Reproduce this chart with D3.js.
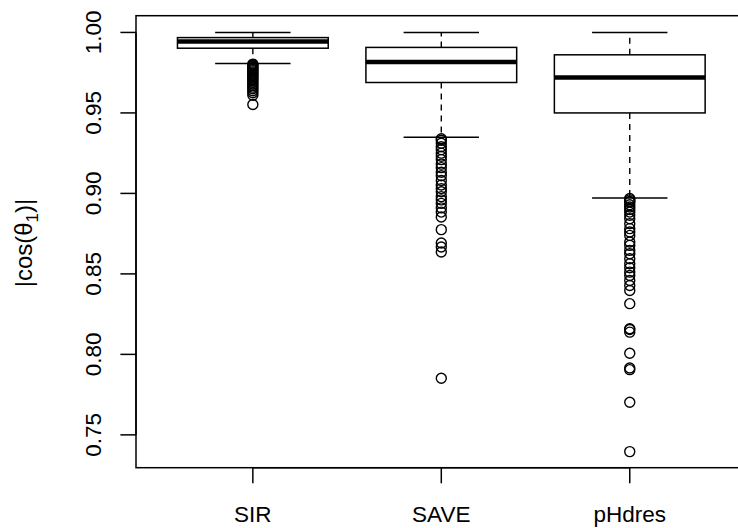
<!DOCTYPE html>
<html lang="en">
<head>
  <meta charset="UTF-8">
  <title>|cos(theta1)| boxplot</title>
  <style>
    body, html {
        margin: 0;
        padding: 0;
        background-color: #fff;
    }
    svg {
        display: block;
        font-family: "Liberation Sans", Arial, sans-serif;
    }
  </style>
</head>
<body>

<svg id="chart" width="738" height="528"></svg>

<script src="https://cdn.jsdelivr.net/npm/d3@7"></script>

<script>
/* global d3 */
// box statistics
var methods = ["SIR", "SAVE", "pHdres"];
var whiskerHi = [1.000, 1.000, 1.000];
var q3 = [0.9968, 0.9907, 0.9861];
var medians = [0.9943, 0.9817, 0.9720];
var q1 = [0.9902, 0.9689, 0.9500];
var whiskerLo = [0.9807, 0.9349, 0.8971];

var outSIR = [0.9803, 0.9798, 0.9791, 0.9784, 0.9778, 0.9770, 0.9763, 0.9755, 0.9748,
  0.9740, 0.9733, 0.9725, 0.9716, 0.9708, 0.9700, 0.9690, 0.9680, 0.9671, 0.9660,
  0.9650, 0.9638, 0.9625, 0.9610, 0.9552];
var outSAVE = [0.9340, 0.9330, 0.9312, 0.9290, 0.9272, 0.9250, 0.9231, 0.9210, 0.9182,
  0.9160, 0.9131, 0.9110, 0.9080, 0.9052, 0.9030, 0.9010, 0.8980, 0.8960, 0.8938,
  0.8910, 0.8884, 0.8853, 0.8775, 0.8692, 0.8667, 0.8636, 0.7852];
var outPHd = [0.8968, 0.8960, 0.8950, 0.8947, 0.8930, 0.8916, 0.8900, 0.8884, 0.8864,
  0.8843, 0.8812, 0.8781, 0.8760, 0.8739, 0.8698, 0.8677, 0.8646, 0.8625, 0.8594,
  0.8563, 0.8538, 0.8511, 0.8490, 0.8459, 0.8428, 0.8397, 0.8315, 0.8159, 0.8155,
  0.8138, 0.8007, 0.7915, 0.7905, 0.7703, 0.7396];
var outliers = [outSIR, outSAVE, outPHd];

var yTicks = [0.75, 0.80, 0.85, 0.90, 0.95, 1.00];

var svg = d3.select("#chart");

// R style: xlim c(0.5, 3.5) extended by 4%
var x = d3.scaleLinear().domain([0.38, 3.62]).range([136, 746.6]);
var y = d3.scaleLinear().domain([0.7296, 1.0104]).range([467.7, 15.7]);

var boxHalf = 0.4, capHalf = 0.2;
var fs = 22.5;

var boxes = svg.append("g");

methods.forEach(function(m, i) {
  var cx = x(i + 1);
  var g = boxes.append("g");

  // whiskers
  g.append("line")
    .attr("x1", cx).attr("x2", cx)
    .attr("y1", y(q3[i])).attr("y2", y(whiskerHi[i]))
    .attr("stroke", "#000").attr("stroke-width", 1.4)
    .attr("stroke-dasharray", "6,5");
  g.append("line")
    .attr("x1", cx).attr("x2", cx)
    .attr("y1", y(q1[i])).attr("y2", y(whiskerLo[i]))
    .attr("stroke", "#000").attr("stroke-width", 1.4)
    .attr("stroke-dasharray", "6,5");

  // staples
  [whiskerHi[i], whiskerLo[i]].forEach(function(v) {
    g.append("line")
      .attr("x1", x(i + 1 - capHalf)).attr("x2", x(i + 1 + capHalf))
      .attr("y1", y(v)).attr("y2", y(v))
      .attr("stroke", "#000").attr("stroke-width", 1.5);
  });

  // box
  g.append("rect")
    .attr("x", x(i + 1 - boxHalf))
    .attr("y", y(q3[i]))
    .attr("width", x(i + 1 + boxHalf) - x(i + 1 - boxHalf))
    .attr("height", y(q1[i]) - y(q3[i]))
    .attr("fill", "#fff")
    .attr("stroke", "#000").attr("stroke-width", 1.5);

  // median
  g.append("line")
    .attr("x1", x(i + 1 - boxHalf)).attr("x2", x(i + 1 + boxHalf))
    .attr("y1", y(medians[i])).attr("y2", y(medians[i]))
    .attr("stroke", "#000").attr("stroke-width", 4.5);

  // outliers
  g.selectAll("circle")
    .data(outliers[i])
    .enter().append("circle")
    .attr("cx", cx)
    .attr("cy", function(d) { return y(d); })
    .attr("r", 5)
    .attr("fill", "none")
    .attr("stroke", "#000").attr("stroke-width", 1.4);
});

// frame
svg.append("rect")
  .attr("x", x.range()[0]).attr("y", y.range()[1])
  .attr("width", x.range()[1] - x.range()[0])
  .attr("height", y.range()[0] - y.range()[1])
  .attr("fill", "none")
  .attr("stroke", "#000").attr("stroke-width", 1.5);

// y axis
var yAxis = svg.append("g");
yAxis.append("line")
  .attr("x1", x.range()[0]).attr("x2", x.range()[0])
  .attr("y1", y(yTicks[0])).attr("y2", y(yTicks[yTicks.length - 1]))
  .attr("stroke", "#000").attr("stroke-width", 1.5);
yTicks.forEach(function(t) {
  yAxis.append("line")
    .attr("x1", x.range()[0] - 15.6).attr("x2", x.range()[0])
    .attr("y1", y(t)).attr("y2", y(t))
    .attr("stroke", "#000").attr("stroke-width", 1.5);
  yAxis.append("text")
    .attr("transform", "translate(101," + y(t) + ") rotate(-90)")
    .attr("text-anchor", "middle")
    .attr("font-size", fs)
    .attr("fill", "#000")
    .text(d3.format(".2f")(t));
});

// x axis
var xAxis = svg.append("g");
xAxis.append("line")
  .attr("x1", x(1)).attr("x2", x(3))
  .attr("y1", y.range()[0]).attr("y2", y.range()[0])
  .attr("stroke", "#000").attr("stroke-width", 1.5);
methods.forEach(function(m, i) {
  xAxis.append("line")
    .attr("x1", x(i + 1)).attr("x2", x(i + 1))
    .attr("y1", y.range()[0]).attr("y2", y.range()[0] + 15.6)
    .attr("stroke", "#000").attr("stroke-width", 1.5);
  xAxis.append("text")
    .attr("x", x(i + 1)).attr("y", 522)
    .attr("text-anchor", "middle")
    .attr("font-size", fs)
    .attr("fill", "#000")
    .text(m);
});

// y title
var yt = svg.append("text")
  .attr("transform", "translate(32," + 243 + ") rotate(-90)")
  .attr("text-anchor", "middle")
  .attr("font-size", 24)
  .attr("fill", "#000");
yt.append("tspan").text("|cos(\u03B8");
yt.append("tspan").attr("font-size", 17).attr("dy", 6).text("1");
yt.append("tspan").attr("dy", -6).text(")|");

</script>

</body>
</html>
